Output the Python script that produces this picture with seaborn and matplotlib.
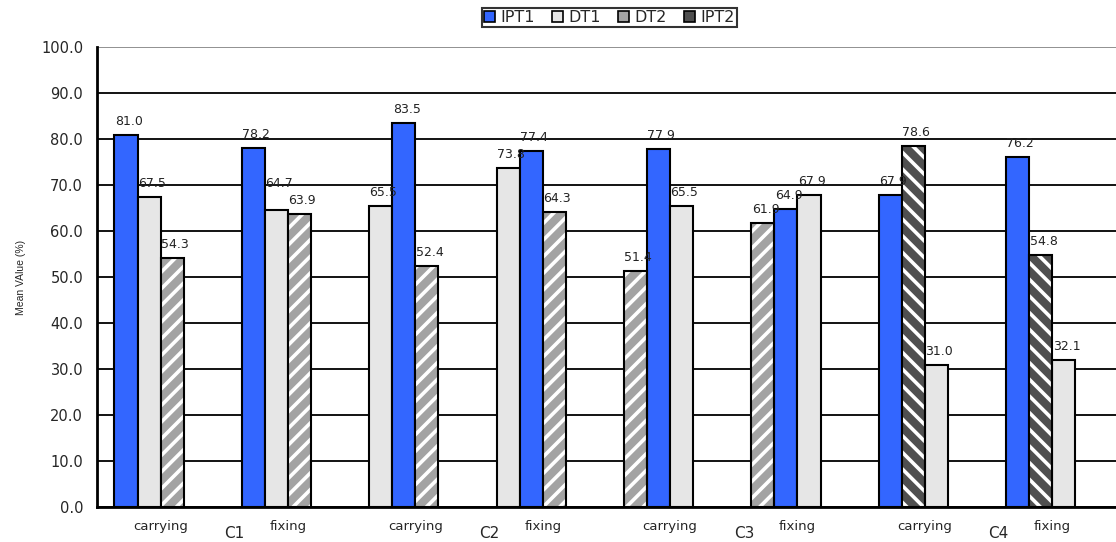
import pandas as pd
import numpy as np
import seaborn as sns
import matplotlib.pyplot as plt
from matplotlib.patches import Patch, Rectangle
from matplotlib.transforms import blended_transform_factory

# data (bars listed left to right within each group)
conditions = ["C1", "C2", "C3", "C4"]
tasks = ["carrying", "fixing"]
series_names = ["IPT1", "DT1", "DT2", "IPT2"]

slot_series = [
    ["IPT1", "DT1", "DT2"],
    ["IPT1", "DT1", "DT2"],
    ["DT1", "IPT1", "DT2"],
    ["DT1", "IPT1", "DT2"],
    ["DT2", "IPT1", "DT1"],
    ["DT2", "IPT1", "DT1"],
    ["IPT1", "IPT2", "DT1"],
    ["IPT1", "IPT2", "DT1"],
]
slot_values = [
    [81.0, 67.5, 54.3],
    [78.2, 64.7, 63.9],
    [65.5, 83.5, 52.4],
    [73.8, 77.4, 64.3],
    [51.4, 77.9, 65.5],
    [61.9, 64.9, 67.9],
    [67.9, 78.6, 31.0],
    [76.2, 54.8, 32.1],
]

styles = {
    "IPT1": dict(face="#3366FF", hatch=None),
    "DT1": dict(face="#E6E6E6", hatch=None),
    "DT2": dict(face="#A3A3A3", hatch="//"),
    "IPT2": dict(face="#4F4F4F", hatch="\\\\"),
}
slot_names = ["s0", "s1", "s2", "s3"]

rows = []
for g, (sers, vals) in enumerate(zip(slot_series, slot_values)):
    for s, (name, v) in enumerate(zip(sers, vals)):
        rows.append({"group": str(g), "slot": slot_names[s], "series": name, "value": v})
df = pd.DataFrame(rows)

sns.set_style("white")
plt.rcParams["font.family"] = ["DejaVu Sans"]
plt.rcParams["hatch.linewidth"] = 2.6

fig = plt.figure(figsize=(11.16, 5.42), dpi=100)
ax = fig.add_axes([0.0869, 0.0637, 0.913, 0.8487])

sns.barplot(data=df, x="group", y="value", hue="slot", hue_order=slot_names,
            order=[str(i) for i in range(8)], dodge=True, width=0.725, errorbar=None,
            legend=False, ax=ax)

for slot, cont in enumerate(ax.containers):
    for g, p in enumerate(cont.patches):
        if slot >= 3 or np.isnan(p.get_height()):
            continue
        name = slot_series[g][slot]
        st = styles[name]
        if st["hatch"]:
            p.set_facecolor(st["face"])
            p.set_edgecolor("white")
            p.set_hatch(st["hatch"])
            p.set_linewidth(0)
            ax.add_patch(Rectangle(p.get_xy(), p.get_width(), p.get_height(),
                                   fill=False, edgecolor="black", linewidth=1.5, zorder=p.get_zorder() + 0.1))
        else:
            p.set_facecolor(st["face"])
            p.set_edgecolor("black")
            p.set_linewidth(1.5)
        # lift a label when the next bar in the group is almost the same height
        vals = slot_values[g]
        dy = 5
        if slot < 2 and abs(vals[slot] - vals[slot + 1]) < 2.5:
            dy = 14
        ax.annotate(f"{p.get_height():.1f}", (p.get_x() + p.get_width() / 2, p.get_height()),
                    xytext=(2, dy), textcoords="offset points", ha="center", va="bottom",
                    fontsize=9, color="#222222")

ax.set_ylim(0, 100)
ax.set_xlim(-0.5, 7.5)
ax.set_yticks(np.arange(0, 101, 10))
ax.set_yticklabels([f"{v:.1f}" for v in np.arange(0, 101, 10)], fontsize=10.5)
ax.yaxis.grid(True, color="black", linewidth=1.3)
ax.get_ygridlines()[-1].set_color("#888888")
ax.set_axisbelow(True)

ax.set_xticks(np.arange(-0.5, 7.5, 1))
ax.set_xticklabels([])
ax.set_xticks(np.arange(8), minor=True)
ax.set_xticklabels(tasks * 4, minor=True, fontsize=9.5)
ax.tick_params(axis="x", which="minor", length=0, pad=9)
ax.tick_params(axis="x", which="major", length=5, width=1.2, color="black", direction="out")
ax.tick_params(axis="y", length=8, width=1.2, color="black", direction="out", pad=2)
ax.set_xlabel("")
ax.set_ylabel("Mean VAlue (%)", fontsize=7.5, family="Liberation Sans", labelpad=11)

trans = blended_transform_factory(ax.transData, ax.transAxes)
for i, c in enumerate(conditions):
    ax.text(2 * i + 0.5 + 0.08, -0.04, c, transform=trans, ha="center", va="top", fontsize=11)

for side in ["top", "right"]:
    ax.spines[side].set_visible(False)
ax.spines["left"].set_color("black")
ax.spines["left"].set_linewidth(2)
ax.spines["bottom"].set_color("black")
ax.spines["bottom"].set_linewidth(2)

handles = [Patch(facecolor=styles[s]["face"], edgecolor="black", linewidth=1.2) for s in series_names]
leg = fig.legend(handles, series_names, loc="upper center", bbox_to_anchor=(0.546, 0.995), ncol=4,
                 fontsize=11.5, frameon=True, fancybox=False, handlelength=0.7, handleheight=0.7,
                 handletextpad=0.3, columnspacing=1.1, borderpad=0.15, borderaxespad=0.3)
leg.get_frame().set_edgecolor("black")
leg.get_frame().set_linewidth(1.5)

fig.savefig("out.png", dpi=100)
